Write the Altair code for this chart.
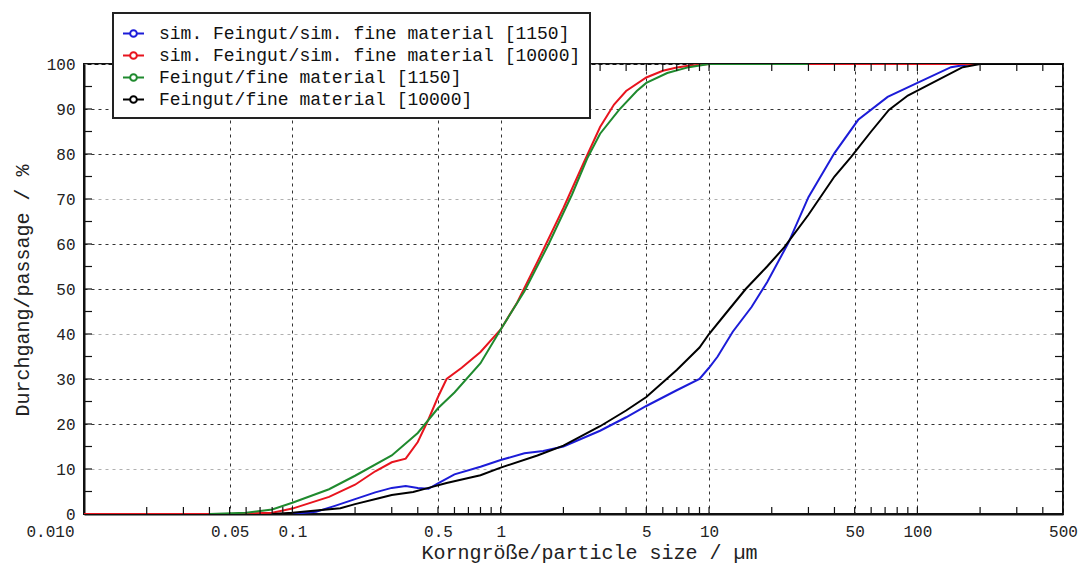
import altair as alt
import pandas as pd

# ---- data ----
names = [
    "sim. Feingut/sim. fine material [1150]",
    "sim. Feingut/sim. fine material [10000]",
    "Feingut/fine material [1150]",
    "Feingut/fine material [10000]",
]
colors = ["#1c1cd8", "#e8141e", "#1f8a2e", "#000000"]

blue_x = [0.1, 0.13, 0.16, 0.2, 0.25, 0.3, 0.35, 0.4, 0.45, 0.5, 0.6, 0.8, 1.0, 1.3, 1.6, 2, 3, 4, 5, 7, 9,
          10, 11, 13, 16, 19, 24, 30, 40, 52, 72, 100, 145, 180, 500]
blue_y = [0, 0.5, 1.8, 3.3, 4.8, 5.8, 6.2, 5.8, 5.6, 6.8, 8.8, 10.5, 12, 13.5, 14, 15, 18.5, 21.5, 24, 27.5, 30,
          32.5, 35, 40.5, 46, 51.5, 60.2, 70.4, 80.2, 87.6, 92.7, 95.8, 99.3, 100, 100]

red_x = [0.01, 0.05, 0.08, 0.1, 0.15, 0.2, 0.25, 0.3, 0.35, 0.4, 0.45, 0.5, 0.55, 0.65, 0.8, 1.0, 1.2, 1.5,
         2.0, 2.5, 3.0, 3.5, 4.0, 5.0, 6.0, 7.0, 8.0, 10, 15, 500]
red_y = [0, 0, 0.3, 1.2, 3.8, 6.5, 9.5, 11.5, 12.3, 16, 21, 26, 30, 32.5, 36, 41, 47, 56,
         68, 78, 86, 91, 94, 97, 98.5, 99.2, 99.6, 100, 100, 100]

green_x = [0.04, 0.06, 0.08, 0.1, 0.15, 0.2, 0.3, 0.4, 0.5, 0.6, 0.8, 1.0, 1.3, 1.7, 2.2, 2.6, 3.0, 3.7, 4.5,
           5.0, 6.3, 8, 10, 30]
green_y = [0, 0.3, 1, 2.5, 5.5, 8.5, 13, 18, 23.5, 27, 33.5, 41, 49.5, 60, 71, 79, 84.5, 89.8, 94,
           95.8, 98, 99.3, 100, 100]

black_x = [0.08, 0.1, 0.13, 0.17, 0.2, 0.26, 0.3, 0.38, 0.45, 0.55, 0.7, 0.8, 1.0, 1.5, 2, 3, 4, 5, 7, 9,
           10, 12, 15, 19, 23, 30, 40, 48, 60, 73, 90, 118, 165, 200, 500]
black_y = [0, 0.3, 0.8, 1.3, 2.2, 3.5, 4.2, 4.9, 5.8, 6.9, 8.0, 8.6, 10.3, 13, 15.2, 19.5, 23, 26, 32, 37,
           40, 44.5, 50, 55, 59.3, 66.5, 75, 79.3, 85, 89.8, 93, 95.8, 99.3, 100, 100]

major_x = [0.01, 0.05, 0.1, 0.5, 1, 5, 10, 50, 100, 500]
minor_x = [0.02, 0.03, 0.04, 0.05, 0.06, 0.07, 0.08, 0.09,
           0.1, 0.2, 0.3, 0.4, 0.5, 0.6, 0.7, 0.8, 0.9,
           1, 2, 3, 4, 5, 6, 7, 8, 9,
           10, 20, 30, 40, 50, 60, 70, 80, 90,
           100, 200, 300, 400]
major_y = [0, 10, 20, 30, 40, 50, 60, 70, 80, 90, 100]
minor_y = [5, 10, 15, 20, 25, 30, 35, 40, 45, 50, 55, 60, 65, 70, 75, 80, 85, 90, 95]

# ---- tables ----
rows = []
for name, xs, ys in zip(names, [blue_x, red_x, green_x, black_x], [blue_y, red_y, green_y, black_y]):
    for i, (a, b) in enumerate(zip(xs, ys)):
        rows.append({"series": name, "size": a, "passage": b, "order": i})
df = pd.DataFrame(rows)
xt = pd.DataFrame({"size": minor_x})
yt = pd.DataFrame({"passage": minor_y})

W, H = 979, 450
FONT = "Liberation Mono"

xscale = alt.Scale(type="log", domain=[0.01, 500], nice=False)
yscale = alt.Scale(domain=[0, 100], nice=False)

legend_path = ("M-1,0L-0.32,0M0.32,0L1,0M-0.32,0A0.32,0.32,0,1,1,0.32,0"
               "A0.32,0.32,0,1,1,-0.32,0")

x_axis = alt.Axis(
    values=major_x, title="Korngröße/particle size / µm",
    labelExpr="datum.value < 0.02 ? '0.010' : '' + datum.value",
    labelAlign={"condition": {"test": "datum.value < 0.02", "value": "right"}, "value": "center"},
    labelOffset={"condition": {"test": "datum.value < 0.02", "value": -10}, "value": 0},
    ticks=False, domain=True, domainColor="#111111", domainWidth=2,
    labelPadding=9, labelFlush=False,
    grid=True, gridDash=[3, 4], gridColor="#333333", gridWidth=1,
    titleX=505, titleY=38, titleAlign="center", titleBaseline="middle",
)
y_axis = alt.Axis(
    values=major_y, title="Durchgang/passage / %",
    ticks=False, domain=True, domainColor="#111111", domainWidth=2, labelPadding=9,
    grid=True, gridDash=[3, 4], gridWidth=1,
    gridColor={"condition": {"test": "datum.value % 30 == 10", "value": "#b0b0b0"}, "value": "#333333"},
    titleX=-62, titleY=226, titleAngle=-90, titleAlign="center", titleBaseline="middle",
)

lines = alt.Chart(df).mark_line(strokeWidth=2, clip=True).encode(
    x=alt.X("size:Q", scale=xscale, axis=x_axis),
    y=alt.Y("passage:Q", scale=yscale, axis=y_axis),
    color=alt.Color("series:N", sort=names, scale=alt.Scale(domain=names, range=colors),
                    legend=alt.Legend(title=None, orient="none", legendX=29, legendY=-51,
                                      symbolType=legend_path, symbolSize=441,
                                      symbolStrokeWidth=2, symbolFillColor="white",
                                      labelFont=FONT, labelFontSize=18, labelColor="#111111",
                                      labelOffset=14, rowPadding=1, padding=9,
                                      fillColor="white", strokeColor="#222222", labelLimit=600)),
    order="order:Q",
)

tick_len = 7
rule_style = dict(color="#111111", strokeWidth=1.2)
bot = alt.Chart(xt).mark_rule(**rule_style).encode(
    x=alt.X("size:Q", scale=xscale), y=alt.value(H), y2=alt.value(H - tick_len))
top = alt.Chart(xt).mark_rule(**rule_style).encode(
    x=alt.X("size:Q", scale=xscale), y=alt.value(0), y2=alt.value(tick_len))
left = alt.Chart(yt).mark_rule(**rule_style).encode(
    y=alt.Y("passage:Q", scale=yscale), x=alt.value(0), x2=alt.value(8))
right = alt.Chart(yt).mark_rule(**rule_style).encode(
    y=alt.Y("passage:Q", scale=yscale), x=alt.value(W), x2=alt.value(W - 8))

chart = alt.layer(lines, bot, top, left, right).properties(
    width=W, height=H,
    background="white",
    autosize=alt.AutoSizeParams(type="none"),
    padding={"left": 84, "top": 64, "right": 16, "bottom": 56},
).configure_view(
    stroke="#111111", strokeWidth=2
).configure_axis(
    labelFont=FONT, labelFontSize=16, labelColor="#222222",
    titleFont=FONT, titleFontSize=20, titleColor="#222222", titleFontWeight="normal",
).configure_legend(
    strokeWidth=2
)

chart.save("out.html", embed_options={"renderer": "svg", "actions": False})
